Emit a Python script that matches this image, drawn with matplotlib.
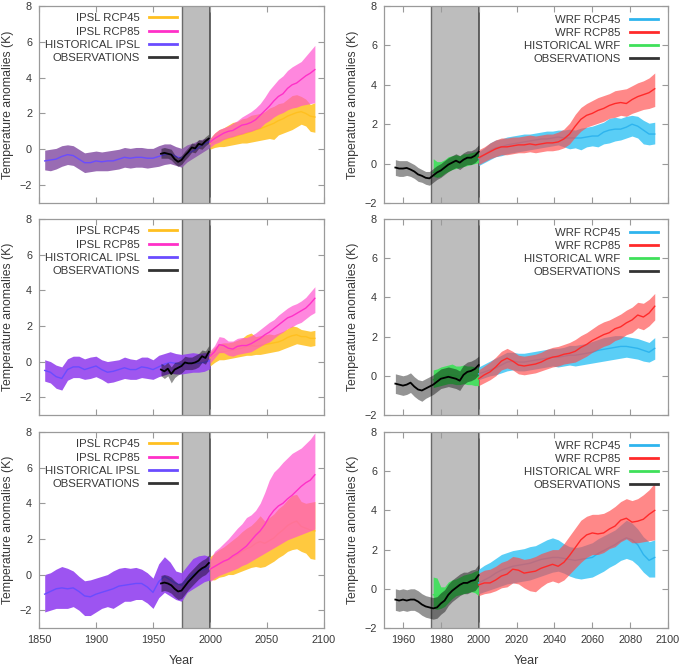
import numpy as np
import matplotlib
matplotlib.use("Agg")
import matplotlib.pyplot as plt
from matplotlib.lines import Line2D

plt.rcParams['font.family'] = ['Liberation Sans', 'DejaVu Sans']

# ---------------- years ----------------
IPSL_HIST_YEARS = np.arange(1855, 2001, 5)
IPSL_OBS_YEARS = np.arange(1957, 2001, 3)
IPSL_FUT_YEARS = np.arange(2000, 2093, 4)
WRF_OBS_YEARS = np.arange(1956, 2001, 2)
WRF_HIST_YEARS = np.arange(1976, 2001, 2)
WRF_FUT_YEARS = np.arange(2000, 2094, 3)

LEFT_LABELS = ["IPSL RCP45", "IPSL RCP85", "HISTORICAL IPSL", "OBSERVATIONS"]
RIGHT_LABELS = ["WRF RCP45", "WRF RCP85", "HISTORICAL WRF", "OBSERVATIONS"]

# ---------------- top-left (IPSL) ----------------
tl_hist_mean = [-0.65, -0.6, -0.55, -0.4, -0.3, -0.35, -0.55, -0.75, -0.75, -0.65, -0.7, -0.65, -0.65, -0.55, -0.45,
                -0.5, -0.45, -0.45, -0.5, -0.5, -0.4, -0.3, -0.25, -0.4, -0.5, -0.25, -0.1, 0.1, 0.3, 0.45]
tl_hist_hi = [-0.05, 0.0, 0.05, 0.2, 0.25, 0.2, 0.0, -0.2, -0.15, -0.1, -0.15, -0.1, -0.05, 0.0, 0.1,
              0.05, 0.1, 0.1, 0.05, 0.05, 0.2, 0.3, 0.3, 0.15, 0.05, 0.25, 0.35, 0.5, 0.6, 0.7]
tl_hist_lo = [-1.15, -1.2, -1.1, -0.95, -0.85, -0.9, -1.1, -1.3, -1.25, -1.2, -1.2, -1.2, -1.15, -1.1, -1.0,
              -1.05, -1.0, -1.0, -1.05, -1.0, -0.95, -0.85, -0.8, -0.9, -1.0, -0.7, -0.5, -0.3, -0.1, 0.1]
tl_obs_mean = [-0.25, -0.2, -0.25, -0.3, -0.55, -0.7, -0.6, -0.35, -0.15, 0.1, 0.05, 0.3, 0.25, 0.45, 0.6]
tl_obs_hi = [0.05, 0.1, 0.05, 0.0, -0.3, -0.45, -0.35, -0.1, 0.1, 0.35, 0.3, 0.55, 0.5, 0.7, 0.85]
tl_obs_lo = [-0.5, -0.5, -0.5, -0.6, -0.8, -0.95, -0.85, -0.6, -0.4, -0.15, -0.2, 0.05, 0.0, 0.2, 0.35]
tl_r45_mean = [0.3, 0.4, 0.5, 0.55, 0.6, 0.7, 0.75, 0.85, 0.9, 1.0, 1.1, 1.15, 1.25, 1.35, 1.45, 1.6, 1.7, 1.85,
               1.95, 2.05, 2.1, 2.0, 1.85, 1.8]
tl_r45_hi = [0.6, 0.9, 1.1, 1.2, 1.35, 1.5, 1.55, 1.7, 1.75, 1.9, 1.95, 2.0, 2.1, 2.3, 2.4, 2.55, 2.6, 2.8, 3.0,
             3.05, 2.95, 2.8, 2.5, 2.6]
tl_r45_lo = [0.0, 0.1, 0.15, 0.15, 0.2, 0.25, 0.3, 0.35, 0.35, 0.4, 0.45, 0.5, 0.55, 0.6, 0.55, 0.8, 0.9, 1.0,
             1.1, 1.25, 1.4, 1.3, 1.0, 0.95]
tl_r85_mean = [0.4, 0.6, 0.75, 0.9, 1.0, 1.05, 1.2, 1.35, 1.4, 1.5, 1.65, 1.9, 2.15, 2.4, 2.7, 2.95, 3.1, 3.4,
               3.6, 3.7, 3.9, 4.1, 4.25, 4.45]
tl_r85_hi = [0.6, 0.9, 1.1, 1.2, 1.3, 1.45, 1.6, 1.8, 1.95, 2.1, 2.3, 2.55, 2.9, 3.3, 3.6, 3.9, 4.1, 4.4, 4.6,
             4.75, 4.9, 5.2, 5.5, 5.8]
tl_r85_lo = [0.1, 0.3, 0.4, 0.55, 0.65, 0.7, 0.8, 0.85, 0.95, 1.0, 1.1, 1.2, 1.45, 1.6, 1.8, 1.95, 2.05, 2.2,
             2.3, 2.35, 2.45, 2.5, 2.55, 2.6]

# ---------------- middle-left (IPSL) ----------------
ml_hist_mean = [-0.5, -0.6, -0.85, -0.95, -0.45, -0.3, -0.3, -0.45, -0.35, -0.25, -0.45, -0.6, -0.55, -0.45, -0.35,
                -0.45, -0.45, -0.3, -0.35, -0.45, -0.3, -0.15, -0.05, -0.1, -0.15, -0.1, -0.05, -0.1, -0.05, 0.05]
ml_hist_hi = [0.1, 0.0, -0.2, -0.3, 0.15, 0.3, 0.3, 0.15, 0.25, 0.3, 0.1, 0.0, 0.05, 0.1, 0.25,
              0.15, 0.1, 0.25, 0.25, 0.1, 0.35, 0.45, 0.55, 0.45, 0.4, 0.45, 0.5, 0.45, 0.5, 0.5]
ml_hist_lo = [-1.1, -1.2, -1.5, -1.6, -1.05, -0.9, -0.9, -1.0, -0.95, -0.85, -1.0, -1.2, -1.15, -1.05, -0.95,
              -1.0, -1.0, -0.9, -0.95, -1.0, -0.85, -0.75, -0.65, -0.7, -0.7, -0.65, -0.6, -0.6, -0.55, -0.4]
ml_obs_mean = [-0.45, -0.55, -0.4, -0.7, -0.45, -0.35, -0.25, -0.05, -0.1, -0.1, -0.05, 0.05, 0.3, 0.2, 0.55]
ml_obs_hi = [-0.1, -0.2, -0.05, -0.3, -0.05, 0.0, 0.1, 0.3, 0.25, 0.25, 0.35, 0.45, 0.65, 0.6, 0.9]
ml_obs_lo = [-0.8, -0.95, -0.8, -1.2, -0.9, -0.75, -0.65, -0.45, -0.45, -0.45, -0.4, -0.3, -0.05, -0.15, 0.2]
ml_r45_mean = [0.2, 0.35, 0.5, 0.55, 0.6, 0.65, 0.7, 0.75, 0.85, 0.9, 0.85, 0.9, 0.95, 1.0, 1.05, 1.1, 1.2, 1.35,
               1.45, 1.5, 1.4, 1.4, 1.3, 1.3]
ml_r45_hi = [0.5, 0.8, 1.0, 1.05, 1.05, 1.1, 1.2, 1.3, 1.5, 1.6, 1.4, 1.45, 1.5, 1.55, 1.5, 1.6, 1.7, 1.85, 2.0,
             1.95, 1.8, 1.75, 1.7, 1.75]
ml_r45_lo = [-0.25, -0.05, 0.1, 0.1, 0.15, 0.2, 0.25, 0.3, 0.35, 0.35, 0.4, 0.4, 0.45, 0.5, 0.55, 0.6, 0.7, 0.8,
             0.9, 1.0, 0.95, 0.9, 0.85, 0.9]
ml_r85_mean = [0.3, 0.55, 0.95, 0.9, 0.75, 0.7, 0.85, 0.9, 0.9, 1.0, 1.15, 1.3, 1.5, 1.65, 1.85, 2.05, 2.25, 2.45,
               2.55, 2.7, 2.85, 3.0, 3.25, 3.55]
ml_r85_hi = [0.6, 0.9, 1.4, 1.35, 1.15, 1.15, 1.3, 1.35, 1.35, 1.45, 1.6, 1.8, 2.0, 2.2, 2.35, 2.6, 2.8, 3.0, 3.15,
             3.25, 3.4, 3.6, 3.9, 4.2]
ml_r85_lo = [-0.1, 0.2, 0.5, 0.5, 0.35, 0.3, 0.4, 0.45, 0.5, 0.55, 0.7, 0.85, 1.0, 1.1, 1.3, 1.5, 1.65, 1.85,
             1.95, 2.1, 2.2, 2.4, 2.6, 2.75]

# ---------------- bottom-left (IPSL) ----------------
bl_hist_mean = [-1.1, -0.95, -0.8, -0.75, -0.8, -0.75, -0.95, -1.2, -1.25, -1.1, -1.0, -0.9, -0.8, -0.65, -0.6,
                -0.55, -0.5, -0.5, -0.7, -1.0, -0.4, -0.1, -0.3, -0.5, -0.6, -0.25, 0.0, 0.2, 0.3, 0.4]
bl_hist_hi = [0.0, 0.1, 0.3, 0.45, 0.35, 0.2, -0.1, -0.35, -0.3, -0.2, -0.1, 0.0, 0.2, 0.35, 0.4,
              0.35, 0.4, 0.3, 0.1, -0.2, 0.6, 1.0, 0.7, 0.2, 0.1, 0.5, 0.9, 1.05, 1.1, 1.0]
bl_hist_lo = [-2.1, -2.0, -1.9, -1.9, -1.9, -1.8, -2.0, -2.3, -2.3, -2.1, -1.9, -1.8, -1.9, -1.7, -1.5,
              -1.5, -1.4, -1.4, -1.6, -1.9, -1.3, -1.0, -1.2, -1.4, -1.5, -1.0, -0.8, -0.6, -0.4, -0.3]
bl_obs_mean = [-0.5, -0.45, -0.5, -0.6, -0.8, -0.95, -0.9, -0.65, -0.4, -0.2, 0.0, 0.2, 0.35, 0.45, 0.65]
bl_obs_hi = [-0.05, 0.0, -0.05, -0.15, -0.35, -0.5, -0.45, -0.2, 0.05, 0.25, 0.45, 0.65, 0.8, 0.9, 1.1]
bl_obs_lo = [-0.95, -0.9, -0.95, -1.05, -1.25, -1.4, -1.35, -1.1, -0.85, -0.65, -0.45, -0.25, -0.1, 0.0, 0.2]
bl_r45_mean = [0.35, 0.45, 0.6, 0.7, 0.85, 0.95, 1.1, 1.3, 1.45, 1.55, 1.75, 1.85, 1.75, 1.9, 2.05, 2.3, 2.5,
               2.75, 2.9, 3.0, 2.7, 2.6, 2.5, 2.45]
bl_r45_hi = [1.0, 1.2, 1.4, 1.55, 1.75, 1.95, 2.15, 2.4, 2.6, 2.75, 3.0, 3.3, 3.0, 3.2, 3.4, 3.7, 3.9, 4.2, 4.45,
             4.5, 4.1, 4.0, 4.05, 4.1]
bl_r45_lo = [-0.3, -0.3, -0.15, -0.1, 0.0, 0.0, 0.1, 0.2, 0.3, 0.4, 0.45, 0.4, 0.45, 0.6, 0.75, 0.95, 1.1, 1.3,
             1.4, 1.45, 1.3, 1.2, 0.9, 0.85]
bl_r85_mean = [0.3, 0.45, 0.6, 0.75, 0.85, 1.05, 1.2, 1.4, 1.6, 1.9, 2.2, 2.45, 2.8, 3.25, 3.6, 3.85, 4.0, 4.25,
               4.45, 4.7, 4.95, 5.15, 5.3, 5.6]
bl_r85_hi = [0.8, 1.3, 1.5, 1.75, 2.0, 2.3, 2.6, 2.85, 3.2, 3.35, 3.6, 4.0, 4.6, 5.3, 5.75, 6.0, 6.3, 6.55, 6.8,
             6.95, 7.1, 7.35, 7.6, 7.95]
bl_r85_lo = [-0.4, -0.2, -0.05, 0.05, 0.15, 0.25, 0.35, 0.5, 0.6, 0.75, 0.9, 1.05, 1.2, 1.35, 1.5, 1.65, 1.8,
             1.95, 2.05, 2.15, 2.25, 2.35, 2.45, 2.55]

# ---------------- top-right (WRF) ----------------
tr_obs_mean = [-0.2, -0.25, -0.25, -0.22, -0.3, -0.4, -0.55, -0.62, -0.72, -0.75, -0.6, -0.45, -0.35, -0.2, -0.05,
               0.05, 0.15, 0.05, 0.2, 0.3, 0.3, 0.4, 0.6]
tr_obs_hi = [0.2, 0.15, 0.15, 0.15, 0.05, -0.05, -0.2, -0.3, -0.4, -0.4, -0.25, -0.1, 0.0, 0.15, 0.3,
             0.4, 0.5, 0.4, 0.55, 0.65, 0.65, 0.75, 0.95]
tr_obs_lo = [-0.6, -0.65, -0.65, -0.6, -0.65, -0.75, -0.9, -0.95, -1.05, -1.1, -0.95, -0.8, -0.7, -0.55, -0.4,
             -0.3, -0.2, -0.3, -0.15, -0.05, -0.05, 0.05, 0.25]
tr_hist_mean = [-0.45, -0.35, -0.3, -0.15, -0.05, 0.05, 0.1, 0.1, 0.15, 0.2, 0.25, 0.3, 0.4]
tr_hist_hi = [0.25, 0.1, 0.1, 0.2, 0.35, 0.4, 0.45, 0.4, 0.5, 0.5, 0.55, 0.6, 0.65]
tr_hist_lo = [-0.65, -0.7, -0.65, -0.5, -0.4, -0.3, -0.25, -0.2, -0.15, -0.1, -0.05, 0.0, 0.05]
tr_r45_mean = [0.25, 0.45, 0.65, 0.8, 0.85, 0.95, 1.0, 1.05, 1.1, 1.15, 1.2, 1.25, 1.25, 1.3, 1.35, 1.3, 1.3, 1.3,
               1.3, 1.35, 1.4, 1.4, 1.6, 1.7, 1.75, 1.75, 1.85, 2.0, 1.9, 1.7, 1.5, 1.5]
tr_r45_hi = [0.6, 0.8, 1.05, 1.2, 1.25, 1.35, 1.4, 1.45, 1.5, 1.5, 1.55, 1.6, 1.65, 1.65, 1.7, 1.7, 1.75, 1.7,
             1.8, 1.85, 1.9, 2.0, 2.1, 2.3, 2.35, 2.3, 2.4, 2.45, 2.4, 2.2, 2.05, 2.1]
tr_r45_lo = [-0.1, 0.05, 0.2, 0.35, 0.4, 0.5, 0.55, 0.6, 0.65, 0.7, 0.75, 0.8, 0.85, 0.9, 0.95, 0.85, 0.75, 0.8,
             0.7, 0.85, 0.9, 0.85, 1.0, 1.05, 1.15, 1.2, 1.3, 1.4, 1.3, 1.0, 0.95, 1.0]
tr_r85_mean = [0.3, 0.45, 0.6, 0.75, 0.85, 0.85, 0.9, 0.95, 0.95, 1.0, 0.95, 1.0, 1.05, 1.05, 1.1, 1.25, 1.5, 1.9,
               2.25, 2.45, 2.55, 2.7, 2.8, 2.95, 3.05, 3.1, 3.05, 3.25, 3.4, 3.5, 3.6, 3.8]
tr_r85_hi = [0.7, 0.85, 1.05, 1.2, 1.3, 1.3, 1.35, 1.35, 1.4, 1.45, 1.4, 1.45, 1.5, 1.5, 1.6, 1.75, 2.05, 2.5,
             2.85, 3.05, 3.2, 3.35, 3.45, 3.55, 3.7, 3.75, 3.8, 3.95, 4.1, 4.2, 4.35, 4.6]
tr_r85_lo = [-0.05, 0.1, 0.25, 0.35, 0.45, 0.45, 0.5, 0.55, 0.55, 0.6, 0.55, 0.6, 0.65, 0.65, 0.7, 0.8, 1.0, 1.35,
             1.65, 1.85, 1.95, 2.05, 2.15, 2.3, 2.35, 2.45, 2.4, 2.55, 2.65, 2.75, 2.8, 2.9]

# ---------------- middle-right (WRF) ----------------
mr_obs_mean = [-0.4, -0.45, -0.5, -0.45, -0.35, -0.55, -0.7, -0.75, -0.65, -0.55, -0.45, -0.3, -0.15, -0.1, -0.05,
               -0.1, -0.15, -0.25, 0.05, 0.2, 0.25, 0.35, 0.55]
mr_obs_hi = [0.1, 0.05, 0.0, 0.05, 0.15, -0.05, -0.2, -0.25, -0.15, -0.05, 0.05, 0.2, 0.35, 0.4, 0.45,
             0.4, 0.35, 0.25, 0.55, 0.7, 0.75, 0.85, 1.0]
mr_obs_lo = [-0.9, -0.95, -1.0, -0.95, -0.85, -1.05, -1.2, -1.3, -1.15, -1.05, -0.95, -0.8, -0.65, -0.6, -0.55,
             -0.6, -0.65, -0.75, -0.45, -0.3, -0.25, -0.15, 0.05]
mr_hist_mean = [-0.2, -0.15, -0.05, 0.0, 0.05, 0.05, 0.0, 0.0, 0.05, 0.0, 0.05, 0.0, 0.0]
mr_hist_hi = [0.3, 0.35, 0.45, 0.5, 0.55, 0.6, 0.5, 0.5, 0.55, 0.5, 0.5, 0.45, 0.4]
mr_hist_lo = [-0.6, -0.55, -0.5, -0.45, -0.4, -0.4, -0.45, -0.45, -0.4, -0.45, -0.45, -0.5, -0.5]
mr_r45_mean = [0.1, 0.2, 0.3, 0.4, 0.55, 0.7, 0.75, 0.7, 0.7, 0.75, 0.8, 0.85, 0.9, 0.95, 0.95, 1.0, 1.05, 1.05,
               1.1, 1.15, 1.2, 1.3, 1.35, 1.4, 1.45, 1.5, 1.5, 1.45, 1.4, 1.3, 1.2, 1.4]
mr_r45_hi = [0.45, 0.6, 0.75, 0.9, 1.05, 1.2, 1.2, 1.15, 1.15, 1.2, 1.25, 1.3, 1.35, 1.4, 1.4, 1.45, 1.55, 1.55,
             1.6, 1.65, 1.75, 1.85, 1.95, 2.0, 2.05, 2.05, 2.0, 1.95, 1.9, 1.8, 1.7, 1.95]
mr_r45_lo = [-0.2, -0.1, 0.0, 0.05, 0.15, 0.25, 0.3, 0.25, 0.25, 0.3, 0.35, 0.4, 0.45, 0.5, 0.45, 0.5, 0.55, 0.5,
             0.55, 0.6, 0.65, 0.7, 0.75, 0.8, 0.85, 0.9, 0.95, 0.9, 0.85, 0.75, 0.7, 0.85]
mr_r85_mean = [-0.15, 0.05, 0.2, 0.45, 0.75, 0.9, 0.75, 0.55, 0.5, 0.55, 0.6, 0.7, 0.85, 0.95, 1.0, 1.1, 1.15,
               1.25, 1.45, 1.6, 1.8, 1.95, 2.1, 2.2, 2.4, 2.5, 2.7, 2.85, 3.1, 3.0, 3.2, 3.55]
mr_r85_hi = [0.3, 0.5, 0.7, 0.95, 1.25, 1.4, 1.25, 1.05, 1.0, 1.05, 1.1, 1.2, 1.35, 1.45, 1.5, 1.6, 1.7, 1.85,
             2.05, 2.2, 2.4, 2.6, 2.75, 2.85, 3.0, 3.15, 3.35, 3.5, 3.75, 3.7, 3.9, 4.2]
mr_r85_lo = [-0.5, -0.35, -0.2, 0.0, 0.3, 0.4, 0.3, 0.1, 0.05, 0.1, 0.15, 0.25, 0.35, 0.45, 0.5, 0.6, 0.65, 0.7,
             0.85, 1.0, 1.2, 1.35, 1.5, 1.6, 1.8, 1.9, 2.1, 2.2, 2.45, 2.35, 2.55, 2.85]

# ---------------- bottom-right (WRF) ----------------
br_obs_mean = [-0.55, -0.6, -0.55, -0.6, -0.55, -0.55, -0.65, -0.8, -0.9, -0.95, -1.0, -0.95, -0.75, -0.6, -0.3,
               -0.1, 0.05, 0.2, 0.3, 0.3, 0.4, 0.45, 0.7]
br_obs_hi = [0.0, -0.05, 0.0, -0.05, 0.0, 0.0, -0.1, -0.25, -0.35, -0.4, -0.45, -0.4, -0.2, -0.05, 0.25,
             0.45, 0.6, 0.75, 0.85, 0.85, 0.95, 1.0, 1.25]
br_obs_lo = [-1.1, -1.15, -1.1, -1.15, -1.1, -1.1, -1.2, -1.35, -1.45, -1.5, -1.55, -1.5, -1.3, -1.15, -0.85,
             -0.65, -0.5, -0.35, -0.25, -0.25, -0.15, -0.1, 0.15]
br_hist_mean = [-0.3, -0.35, -0.3, -0.25, -0.15, 0.0, 0.1, 0.15, 0.2, 0.25, 0.3, 0.3, 0.35]
br_hist_hi = [0.6, 0.55, 0.1, 0.1, 0.35, 0.45, 0.5, 0.6, 0.7, 0.75, 0.8, 0.9, 0.95]
br_hist_lo = [-1.0, -1.05, -1.0, -0.9, -0.7, -0.5, -0.35, -0.3, -0.25, -0.2, -0.15, -0.2, -0.35]
br_r45_mean = [0.3, 0.45, 0.6, 0.8, 0.95, 1.05, 1.15, 1.2, 1.25, 1.3, 1.4, 1.5, 1.55, 1.6, 1.6, 1.55, 1.5, 1.45,
               1.5, 1.55, 1.6, 1.8, 1.95, 2.1, 2.25, 2.45, 2.6, 2.5, 2.25, 1.75, 1.45, 1.6]
br_r45_hi = [1.0, 1.2, 1.35, 1.55, 1.75, 1.85, 1.95, 2.0, 2.05, 2.15, 2.2, 2.35, 2.5, 2.6, 2.5, 2.3, 2.15, 2.1,
             2.15, 2.25, 2.35, 2.55, 2.7, 2.85, 3.0, 3.25, 3.5, 3.35, 3.05, 2.65, 2.4, 2.5]
br_r45_lo = [-0.25, -0.15, -0.05, 0.05, 0.15, 0.25, 0.3, 0.35, 0.4, 0.45, 0.55, 0.65, 0.75, 0.85, 0.9, 0.8, 0.65,
             0.55, 0.5, 0.55, 0.6, 0.75, 0.9, 1.1, 1.25, 1.45, 1.55, 1.45, 1.2, 0.85, 0.6, 0.6]
br_r85_mean = [0.2, 0.3, 0.3, 0.45, 0.65, 0.75, 1.0, 0.95, 0.8, 0.85, 0.9, 1.05, 1.15, 1.25, 1.15, 1.35, 1.7, 2.1,
               2.5, 2.75, 2.85, 2.8, 2.85, 3.05, 3.2, 3.5, 3.6, 3.4, 3.45, 3.55, 3.8, 4.0]
br_r85_hi = [0.8, 0.95, 1.0, 1.15, 1.35, 1.45, 1.65, 1.6, 1.5, 1.55, 1.65, 1.8, 1.9, 2.0, 2.0, 2.3, 2.7, 3.1, 3.5,
             3.7, 3.8, 3.8, 3.85, 4.0, 4.2, 4.45, 4.6, 4.5, 4.6, 4.8, 5.05, 5.4]
br_r85_lo = [-0.35, -0.25, -0.2, -0.1, 0.05, 0.1, 0.3, 0.25, 0.05, -0.1, -0.15, 0.1, 0.3, 0.4, 0.3, 0.45, 0.75,
             1.05, 1.35, 1.6, 1.75, 1.75, 1.85, 2.05, 2.15, 2.4, 2.55, 2.35, 2.35, 2.4, 2.45, 2.5]

# ---------------- styles ----------------
TEXT = '#383838'
SPINE = '#9a9a9a'
IPSL_STYLE = dict(r45_band='#ffc52e', r45_line='#ffc020', r85_band='#ff4fcf', r85_line='#ff30c8',
                  hist_line='#6a4cff')
WRF_STYLE = dict(r45_band='#4ccaf6', r45_line='#2eb4ee', r85_band='#ff4a4a', r85_line='#ff2a2a',
                 hist_band='#3fe05a', hist_line='#3fe05a')

panels = [
    (0, 0, dict(hist=(IPSL_HIST_YEARS, tl_hist_mean, tl_hist_lo, tl_hist_hi), obs=(IPSL_OBS_YEARS, tl_obs_mean, tl_obs_lo, tl_obs_hi),
                r45=(IPSL_FUT_YEARS, tl_r45_mean, tl_r45_lo, tl_r45_hi), r85=(IPSL_FUT_YEARS, tl_r85_mean, tl_r85_lo, tl_r85_hi),
                hist_band='#9160ad')),
    (1, 0, dict(hist=(IPSL_HIST_YEARS, ml_hist_mean, ml_hist_lo, ml_hist_hi), obs=(IPSL_OBS_YEARS, ml_obs_mean, ml_obs_lo, ml_obs_hi),
                r45=(IPSL_FUT_YEARS, ml_r45_mean, ml_r45_lo, ml_r45_hi), r85=(IPSL_FUT_YEARS, ml_r85_mean, ml_r85_lo, ml_r85_hi),
                hist_band='#9748ee')),
    (2, 0, dict(hist=(IPSL_HIST_YEARS, bl_hist_mean, bl_hist_lo, bl_hist_hi), obs=(IPSL_OBS_YEARS, bl_obs_mean, bl_obs_lo, bl_obs_hi),
                r45=(IPSL_FUT_YEARS, bl_r45_mean, bl_r45_lo, bl_r45_hi), r85=(IPSL_FUT_YEARS, bl_r85_mean, bl_r85_lo, bl_r85_hi),
                hist_band='#9545f0')),
    (0, 1, dict(hist=(WRF_HIST_YEARS, tr_hist_mean, tr_hist_lo, tr_hist_hi), obs=(WRF_OBS_YEARS, tr_obs_mean, tr_obs_lo, tr_obs_hi),
                r45=(WRF_FUT_YEARS, tr_r45_mean, tr_r45_lo, tr_r45_hi), r85=(WRF_FUT_YEARS, tr_r85_mean, tr_r85_lo, tr_r85_hi))),
    (1, 1, dict(hist=(WRF_HIST_YEARS, mr_hist_mean, mr_hist_lo, mr_hist_hi), obs=(WRF_OBS_YEARS, mr_obs_mean, mr_obs_lo, mr_obs_hi),
                r45=(WRF_FUT_YEARS, mr_r45_mean, mr_r45_lo, mr_r45_hi), r85=(WRF_FUT_YEARS, mr_r85_mean, mr_r85_lo, mr_r85_hi))),
    (2, 1, dict(hist=(WRF_HIST_YEARS, br_hist_mean, br_hist_lo, br_hist_hi), obs=(WRF_OBS_YEARS, br_obs_mean, br_obs_lo, br_obs_hi),
                r45=(WRF_FUT_YEARS, br_r45_mean, br_r45_lo, br_r45_hi), r85=(WRF_FUT_YEARS, br_r85_mean, br_r85_lo, br_r85_hi))),
]

W, H = 685, 668
fig = plt.figure(figsize=(W / 100, H / 100), dpi=100)
col_x = [(39, 285), (384, 284)]
row_y = [(6, 203), (219, 415), (432, 628)]

for row, col, d in panels:
    x0, w = col_x[col]
    y0, y1 = row_y[row]
    ax = fig.add_axes([x0 / W, 1 - y1 / H, w / W, (y1 - y0) / H])
    left = col == 0
    st = IPSL_STYLE if left else WRF_STYLE

    ax.axvspan(1975, 2000, color='#bdbdbd', lw=0, zorder=0)
    ax.axvline(1975, color='#6a6a6a', lw=1.0, zorder=0.5)
    ax.axvline(2000, color='#4a4a4a', lw=1.2, zorder=0.5)

    hy, hm, hl, hh = d['hist']
    hb = d.get('hist_band', st.get('hist_band'))
    ax.fill_between(hy, hl, hh, color=hb, alpha=0.92, lw=0, zorder=1)
    ax.plot(hy, hm, color=st['hist_line'], lw=1.0, zorder=1.5)

    oy, om, ol, oh = d['obs']
    ax.fill_between(oy, ol, oh, color='black', alpha=0.42, lw=0, zorder=2)

    fy, m45, l45, h45 = d['r45']
    ax.fill_between(fy, l45, h45, color=st['r45_band'], alpha=0.92, lw=0, zorder=3)
    ax.plot(fy, m45, color=st['r45_line'], lw=1.0, zorder=3.5)
    fy, m85, l85, h85 = d['r85']
    ax.fill_between(fy, l85, h85, color=st['r85_band'], alpha=0.68 if left else 0.66, lw=0, zorder=4)
    ax.plot(fy, m85, color=st['r85_line'], lw=1.0, zorder=4.5)

    ax.plot(oy, om, color='black', lw=1.3, zorder=6)

    if left:
        ax.set_xlim(1850, 2100)
        ax.set_xticks(np.arange(1850, 2101, 50))
        ax.set_ylim(-3, 8)
    else:
        ax.set_xlim(1950, 2100)
        ax.set_xticks(np.arange(1960, 2101, 20))
        ax.set_ylim(-2, 8)
    ax.set_yticks(np.arange(-2, 9, 2))

    ax.tick_params(direction='in', length=4, width=0.8, color=SPINE, labelcolor=TEXT, labelsize=7.8,
                   top=True, right=True, pad=5)
    for s in ax.spines.values():
        s.set_color(SPINE)
        s.set_linewidth(0.9)
    if row < 2:
        ax.set_xticklabels([])
    else:
        ax.set_xlabel('Year', fontsize=9, color=TEXT, labelpad=7)
    ax.set_ylabel('Temperature anomalies (K)', fontsize=8.8, color=TEXT, labelpad=4)

    labels = LEFT_LABELS if left else RIGHT_LABELS
    hist_leg = st['hist_line'] if left else st['hist_band']
    handles = [Line2D([], [], color=st['r45_line'], lw=2),
               Line2D([], [], color=st['r85_line'], lw=2),
               Line2D([], [], color=hist_leg, lw=2),
               Line2D([], [], color='#333333', lw=2)]
    anchor = (0.485, 0.962) if left else (0.965, 0.955)
    leg = ax.legend(handles, labels, loc='upper right', bbox_to_anchor=anchor, frameon=False,
                    markerfirst=False, fontsize=8.2, handlelength=2.5, handletextpad=0.8,
                    labelspacing=0.27, borderaxespad=0, borderpad=0)
    for t in leg.get_texts():
        t.set_color(TEXT)

fig.savefig('out.png', dpi=100)
